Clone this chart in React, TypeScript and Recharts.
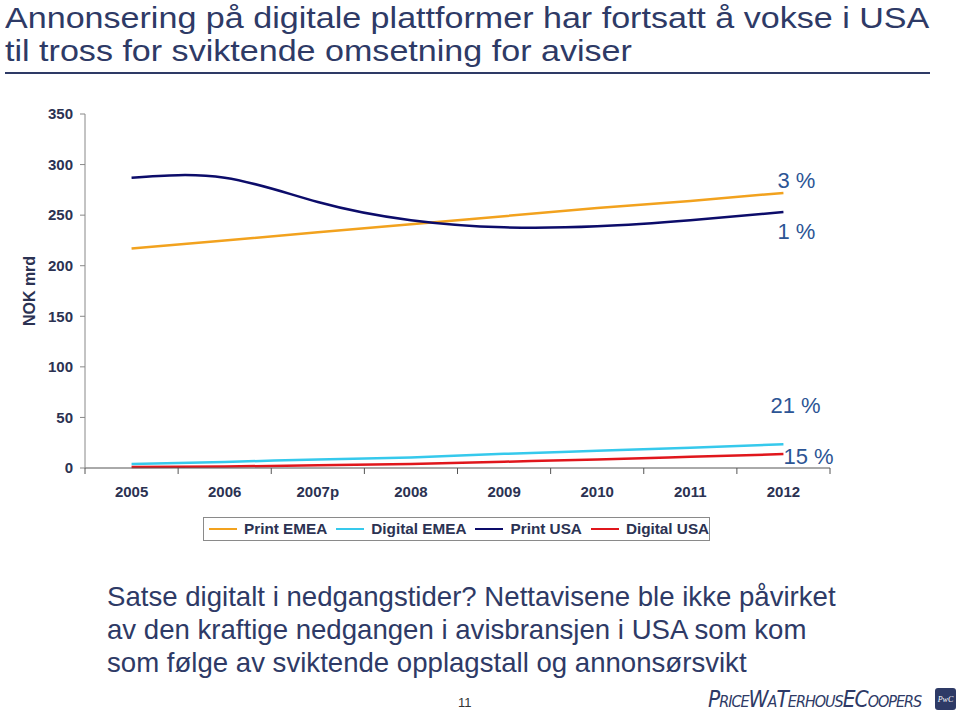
import React from 'react';
import { LineChart, Line, XAxis, YAxis } from 'recharts';

const categories = ['2005', '2006', '2007p', '2008', '2009', '2010', '2011', '2012'];
const printEMEA = [217, 225, 233, 241, 249, 257, 264, 272];
const digitalEMEA = [4, 6, 8.5, 10.5, 14, 17, 20, 23.5];
const printUSA = [287, 287, 263, 245, 238, 239, 245, 253];
const digitalUSA = [1, 1.5, 2.6, 4, 6.2, 8.3, 11, 13.8];
const yTicks = [0, 50, 100, 150, 200, 250, 300, 350];
const growthLabels = ['3 %', '21 %', '1 %', '15 %'];
const seriesNames = ['Print EMEA', 'Digital EMEA', 'Print USA', 'Digital USA'];
const titleLines = ['Annonsering på digitale plattformer har fortsatt å vokse i USA', 'til tross for sviktende omsetning for aviser'];

const COLORS = ['#F2A21E', '#36C9EC', '#0C0C6A', '#E0161C'];
const TEXT = '#2B3252';
const LABEL_BLUE = '#2C5595';
const NAVY_TEXT = '#2E3A66';

const data = categories.map((c, i) => ({
  i,
  cat: c,
  printEMEA: printEMEA[i],
  digitalEMEA: digitalEMEA[i],
  printUSA: printUSA[i],
  digitalUSA: digitalUSA[i],
}));

const xTicks: number[] = [];
for (let k = -0.5; k <= categories.length - 0.5 + 1e-9; k += 0.5) xTicks.push(k);

const XTick = (props: any) => {
  const { x, y, payload } = props;
  const v = payload.value;
  if (Math.abs(v - Math.round(v)) > 0.01) {
    return <line x1={x} x2={x} y1={y - 8} y2={y - 2} stroke="#555" strokeWidth={1} />;
  }
  const label = categories[Math.round(v)];
  if (label === undefined) return null;
  return (
    <text x={x} y={y} dy={21} textAnchor="middle" fontSize={15} fontWeight="bold" fill={TEXT} fontFamily="Arial, 'Liberation Sans', sans-serif">
      {label}
    </text>
  );
};

const makeLabel = (text: string, dx: number, dy: number) => (props: any) => {
  const { x, y, index } = props;
  if (index !== categories.length - 1) return null;
  return (
    <text key={text} x={x + dx} y={y + dy} fontSize={22} fill={LABEL_BLUE} fontFamily="Arial, 'Liberation Sans', sans-serif" dominantBaseline="central">
      {text}
    </text>
  );
};

export default function App() {
  const font = "Arial, 'Liberation Sans', sans-serif";
  return (
    <div style={{ position: 'absolute', left: 0, top: 0, width: 960, height: 715, background: '#fff', fontFamily: font, overflow: 'hidden' }}>
      {titleLines.map((t, k) => (
        <div key={t} style={{ position: 'absolute', left: 5, top: 1.5 + k * 33, fontSize: 29, lineHeight: '32px', color: NAVY_TEXT, whiteSpace: 'nowrap', transform: 'scaleX(1.175)', transformOrigin: 'left center' }}>
          {t}
        </div>
      ))}
      <div style={{ position: 'absolute', left: 5, top: 72, width: 925, height: 2, background: NAVY_TEXT }} />

      <div style={{ position: 'absolute', left: 0, top: 0 }}>
        <LineChart width={960} height={500} data={data} margin={{ top: 114, right: 130, left: 25, bottom: 2 }}>
          <XAxis
            dataKey="i"
            type="number"
            domain={[-0.5, categories.length - 0.5]}
            ticks={xTicks}
            interval={0}
            tickLine={false}
            tickSize={6}
            tickMargin={2}
            height={30}
            axisLine={{ stroke: '#555', strokeWidth: 1 }}
            tick={<XTick />}
          />
          <YAxis
            domain={[0, 350]}
            ticks={yTicks}
            interval={0}
            width={60}
            tickSize={5}
            tickMargin={7}
            axisLine={{ stroke: '#888', strokeWidth: 1 }}
            tickLine={{ stroke: '#888' }}
            tick={{ fontSize: 15, fontWeight: 'bold', fill: TEXT, fontFamily: font }}
          />
          <Line type="linear" dataKey="printEMEA" stroke={COLORS[0]} strokeWidth={2.5} dot={false} isAnimationActive={false} label={makeLabel(growthLabels[0], -6, -12)} />
          <Line type="monotone" dataKey="digitalEMEA" stroke={COLORS[1]} strokeWidth={2.5} dot={false} isAnimationActive={false} label={makeLabel(growthLabels[1], -13, -39)} />
          <Line type="natural" dataKey="printUSA" stroke={COLORS[2]} strokeWidth={2.5} dot={false} isAnimationActive={false} label={makeLabel(growthLabels[2], -6, 19)} />
          <Line type="monotone" dataKey="digitalUSA" stroke={COLORS[3]} strokeWidth={2.5} dot={false} isAnimationActive={false} label={makeLabel(growthLabels[3], 0, 2)} />
        </LineChart>
      </div>

      <div style={{ position: 'absolute', left: 30, top: 291, transform: 'translate(-50%, -50%) rotate(-90deg)', transformOrigin: 'center', fontSize: 16, fontWeight: 'bold', color: TEXT, whiteSpace: 'nowrap' }}>
        NOK mrd
      </div>

      <div style={{ position: 'absolute', left: 203, top: 517, width: 507, height: 24, border: '1px solid #8a8a8a', display: 'flex', alignItems: 'center', gap: 9, paddingLeft: 5, boxSizing: 'border-box' }}>
        {seriesNames.map((n, k) => (
          <div key={n} style={{ display: 'flex', alignItems: 'center', gap: 7 }}>
            <div style={{ width: 28, height: 2, background: COLORS[k] }} />
            <span style={{ fontSize: 15.3, fontWeight: 'bold', color: TEXT, whiteSpace: 'nowrap' }}>{n}</span>
          </div>
        ))}
      </div>

      <div style={{ position: 'absolute', left: 107, top: 580, fontSize: 27.6, lineHeight: '33px', color: NAVY_TEXT, whiteSpace: 'nowrap' }}>
        Satse digitalt i nedgangstider? Nettavisene ble ikke påvirket
        <br />
        av den kraftige nedgangen i avisbransjen i USA som kom
        <br />
        som følge av sviktende opplagstall og annonsørsvikt
      </div>

      <div style={{ position: 'absolute', left: 458, top: 695, fontSize: 13, color: '#333' }}>11</div>

      <div style={{ position: 'absolute', left: 708, top: 686, fontSize: 22.5, fontStyle: 'italic', fontVariant: 'small-caps', color: NAVY_TEXT, whiteSpace: 'nowrap', letterSpacing: -1, fontFamily: "'DejaVu Sans Condensed', 'DejaVu Sans', sans-serif" }}>
        PriceWaTerhousECoopers
      </div>
      <div style={{ position: 'absolute', left: 935, top: 688, width: 21, height: 22, background: '#2E3A66', borderRadius: 3, color: '#fff', fontSize: 8, fontStyle: 'italic', display: 'flex', alignItems: 'center', justifyContent: 'center', fontFamily: 'serif' }}>
        PwC
      </div>
    </div>
  );
}
